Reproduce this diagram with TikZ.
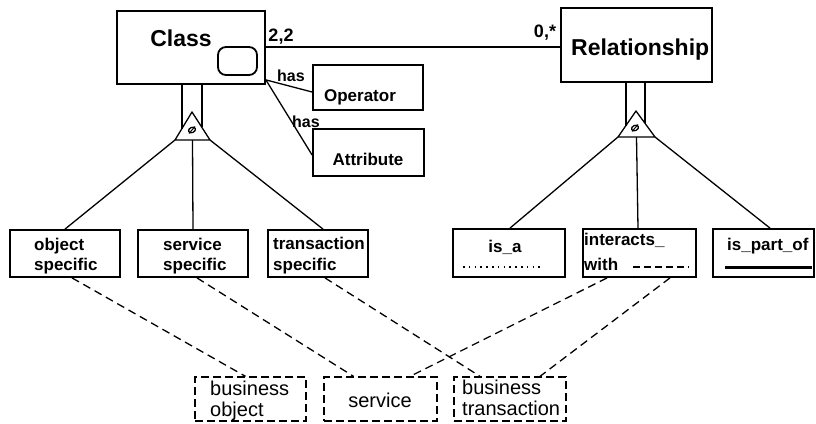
\documentclass[tikz,border=0pt]{standalone}
\usepackage{fontspec}
\setmainfont{Liberation Sans}
\usetikzlibrary{calc}
\begin{document}
\begin{tikzpicture}[x=1pt,y=-1pt,
  box/.style={draw, line width=1.8pt, inner sep=0pt, rectangle},
  dbox/.style={draw, line width=1.3pt, dash pattern=on 8pt off 4pt, inner sep=0pt, rectangle},
  conn/.style={line width=1.3pt},
  dconn/.style={line width=1.3pt, dash pattern=on 8pt off 5pt},
  big/.style={font=\bfseries\fontsize{23}{26}\selectfont, inner sep=0pt},
  lbl/.style={font=\bfseries\fontsize{17}{20}\selectfont, inner sep=0pt},
  mult/.style={font=\bfseries\fontsize{18}{20}\selectfont, inner sep=0pt},
  role/.style={font=\bfseries\fontsize{16}{18}\selectfont, inner sep=0pt},
  plain/.style={font=\fontsize{20}{22}\selectfont, inner sep=0pt},
  disjoint/.style={line width=1.3pt},
]
\useasboundingbox (0,0) rectangle (816,423);

% ---- entity boxes ----
\node[box, minimum width=148pt, minimum height=73pt] (class) at (191,47.5) {};
\node[box, rounded corners=8pt, minimum width=39pt, minimum height=28pt] (handle) at (237.5,61) {};
\node[big, anchor=base] (classt) at (181,46.5) {Class};

\node[box, minimum width=151pt, minimum height=74pt] (rel) at (636.5,45) {};
\node[big, anchor=base west] (relt) at (571,55) {Relationship};

\node[box, minimum width=110pt, minimum height=45pt] (op) at (368,87.5) {};
\node[lbl, anchor=base] (opt) at (360,101) {Operator};

\node[box, minimum width=111pt, minimum height=47pt] (attr) at (368.5,152.5) {};
\node[lbl, anchor=base] (attrt) at (368,165) {Attribute};

% ---- subclasses of Class ----
\node[box, minimum width=110pt, minimum height=47pt] (objspec) at (65,253.5) {};
\node[lbl, anchor=base west] (objspec1) at (34,250) {object};
\node[lbl, anchor=base west] (objspec2) at (34,270) {specific};

\node[box, minimum width=110pt, minimum height=47pt] (servspec) at (193,253.5) {};
\node[lbl, anchor=base west] (servspec1) at (163,250) {service};
\node[lbl, anchor=base west] (servspec2) at (163,270) {specific};

\node[box, minimum width=100pt, minimum height=47pt] (transspec) at (318,253.5) {};
\node[lbl, anchor=base west] (transspec1) at (273,249) {transaction};
\node[lbl, anchor=base west] (transspec2) at (273,270) {specific};

% ---- subclasses of Relationship ----
\node[box, minimum width=112pt, minimum height=48pt] (isa) at (509,253) {};
\node[lbl, anchor=base] (isat) at (505,252) {is\_a};
\draw[line width=2pt, dash pattern=on 1.6pt off 4.2pt] (463,267) -- (541,267);

\node[box, minimum width=113pt, minimum height=48pt] (inter) at (639.5,253) {};
\node[lbl, anchor=base west] (inter1) at (584,245) {interacts\_};
\node[lbl, anchor=base west] (inter2) at (584,270) {with};
\draw[line width=2.5pt, dash pattern=on 7pt off 4pt] (633,267) -- (689,267);

\node[box, minimum width=101pt, minimum height=48pt] (part) at (763.5,253) {};
\node[lbl, anchor=base west] (partt) at (727,250) {is\_part\_of};
\draw[line width=3pt] (725,267) -- (812,267);

% ---- business concepts ----
\node[dbox, minimum width=111pt, minimum height=44pt] (bobj) at (250.5,399) {};
\node[plain, anchor=base west] (bobj1) at (210,395) {business};
\node[plain, anchor=base west] (bobj2) at (210,416) {object};

\node[dbox, minimum width=113pt, minimum height=44pt] (serv) at (380.5,399) {};
\node[plain, anchor=base] (servt) at (380,407) {service};

\node[dbox, minimum width=112pt, minimum height=44pt] (btrans) at (510,399) {};
\node[plain, anchor=base west] (btrans1) at (462,394) {business};
\node[plain, anchor=base west] (btrans2) at (462,415) {transaction};

% ---- association Class -- Relationship ----
\draw[conn] (class.east |- 0,47) -- (rel.west |- 0,47);
\node[mult, anchor=base] (m1) at (281,41) {2,2};
\node[mult, anchor=base] (m2) at (545,37) {0,*};

% ---- has associations ----
\draw[conn] ([yshift=5pt]class.south east) -- ([yshift=-4.5pt]op.west);
\draw[conn] ([yshift=5pt]class.south east) -- ([yshift=-2.5pt]attr.west);
\node[role, anchor=base] (has1) at (291,81) {has};
\node[role, anchor=base] (has2) at (306,127) {has};

% ---- disjoint generalisation of Class ----
\coordinate (ltop) at (192,112);
\coordinate (lbl) at (175,140);
\coordinate (lbr) at (210,140);
\coordinate (lbm) at (192.5,140);
\draw[conn, line join=round] (ltop) -- (lbl) -- (lbr) -- cycle;
\draw[conn] ($(ltop)!0.59!(lbl)$) coordinate (lv1) -- (lv1 |- class.south);
\draw[conn] ($(ltop)!0.55!(lbr)$) coordinate (lv2) -- (lv2 |- class.south);
\draw[disjoint, rotate around={25:(192,130)}] (192,130) ellipse [x radius=3.6pt, y radius=2.6pt];
\draw[line width=1pt] (189,133.5) -- (195,126.5);
\draw[conn] (lbl) -- (objspec.north);
\draw[conn] (lbm) -- (servspec.north);
\draw[conn] (lbr) -- ([xshift=5pt]transspec.north);

% ---- disjoint generalisation of Relationship ----
\coordinate (rtop) at (636,111);
\coordinate (rbl) at (618,137);
\coordinate (rbr) at (655,137);
\coordinate (rbm) at (636.5,137);
\draw[conn, line join=round] (rtop) -- (rbl) -- (rbr) -- cycle;
\draw[conn] ($(rtop)!0.56!(rbl)$) coordinate (rv1) -- (rv1 |- rel.south);
\draw[conn] ($(rtop)!0.47!(rbr)$) coordinate (rv2) -- (rv2 |- rel.south);
\draw[disjoint, rotate around={25:(635,128)}] (635,128) ellipse [x radius=3.6pt, y radius=2.6pt];
\draw[line width=1pt] (632,131.5) -- (638,124.5);
\draw[conn] (rbl) -- ([xshift=1pt]isa.north);
\draw[conn] (rbm) -- ([xshift=-1.5pt]inter.north);
\draw[conn] (rbr) -- ([xshift=6.5pt]part.north);

% ---- mappings to business concepts ----
\draw[dconn] ([xshift=7pt]objspec.south) -- ([xshift=-5pt]bobj.north);
\draw[dconn] ([xshift=4pt]servspec.south) -- ([xshift=-27pt]serv.north);
\draw[dconn] ([xshift=7pt]transspec.south) -- ([xshift=-30pt]btrans.north);
\draw[dconn] ([xshift=-32.5pt]inter.south) -- ([xshift=29.5pt]serv.north);
\draw[dconn] ([xshift=30.5pt]inter.south) -- ([xshift=30pt]btrans.north);
\end{tikzpicture}
\end{document}
